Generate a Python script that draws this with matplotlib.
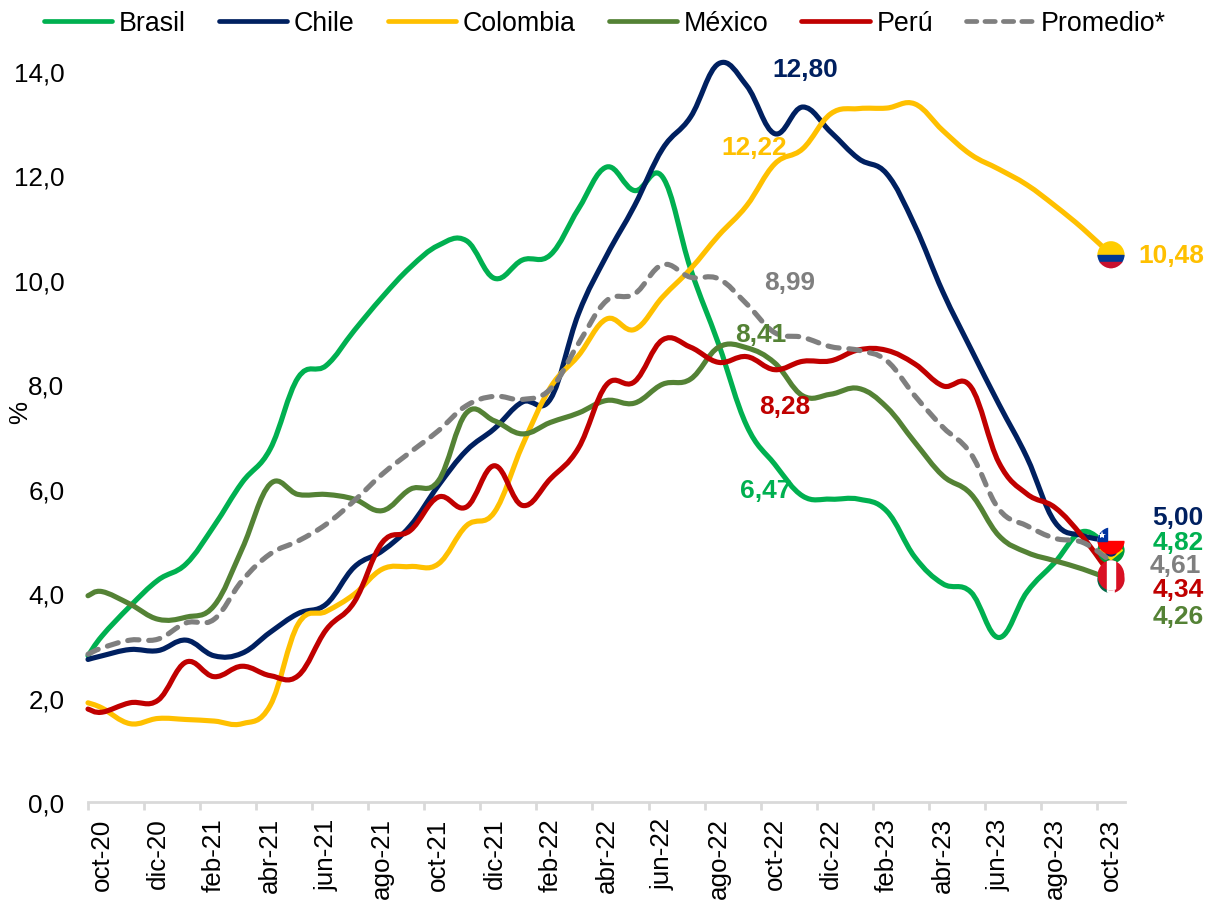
import numpy as np
import matplotlib
matplotlib.use('Agg')
import matplotlib.pyplot as plt
from matplotlib.lines import Line2D
from matplotlib.patches import Circle, Rectangle, Polygon, PathPatch
from matplotlib.path import Path
from matplotlib.transforms import Affine2D

plt.rcParams['font.family'] = ['Liberation Sans', 'DejaVu Sans']
plt.rcParams['font.size'] = 18.7

# Meses del eje (el primer valor de cada serie es el arranque en el borde izquierdo)
meses = ['oct-20', 'dic-20', 'feb-21', 'abr-21', 'jun-21', 'ago-21', 'oct-21', 'dic-21', 'feb-22',
         'abr-22', 'jun-22', 'ago-22', 'oct-22', 'dic-22', 'feb-23', 'abr-23', 'jun-23', 'ago-23', 'oct-23']

brasil = [2.8, 3.18, 3.75, 4.25, 4.56, 5.29, 6.12, 6.76, 8.13, 8.36, 9.03, 9.67, 10.24, 10.66, 10.75, 10.03,
          10.38, 10.48, 11.36, 12.16, 11.71, 11.97, 10.21, 8.77, 7.21, 6.47, 5.86, 5.8, 5.8, 5.57, 4.69, 4.18,
          4.02, 3.15, 4.02, 4.59, 5.18, 4.82]
chile = [2.73, 2.8, 2.92, 2.9, 3.1, 2.8, 2.85, 3.25, 3.61, 3.79, 4.5, 4.81, 5.29, 6.06, 6.73, 7.15,
         7.66, 7.72, 9.35, 10.46, 11.42, 12.51, 13.12, 14.14, 13.72, 12.8, 13.31, 12.83, 12.32, 12.03, 11.04, 9.77,
         8.68, 7.62, 6.6, 5.36, 5.1, 5.0]
colombia = [1.9, 1.8, 1.5, 1.6, 1.58, 1.55, 1.5, 1.85, 3.41, 3.65, 3.98, 4.46, 4.51, 4.56, 5.29, 5.55,
            6.83, 7.94, 8.55, 9.25, 9.05, 9.67, 10.21, 10.85, 11.42, 12.22, 12.51, 13.18, 13.28, 13.29, 13.37, 12.86,
            12.4, 12.12, 11.82, 11.42, 10.98, 10.48]
mexico = [3.95, 4.03, 3.79, 3.5, 3.54, 3.76, 4.85, 6.09, 5.89, 5.89, 5.8, 5.58, 5.99, 6.15, 7.45, 7.3,
          7.05, 7.27, 7.45, 7.69, 7.64, 8.0, 8.1, 8.71, 8.7, 8.41, 7.78, 7.81, 7.92, 7.56, 6.89, 6.25,
          5.9, 5.1, 4.78, 4.62, 4.46, 4.26]
peru = [1.78, 1.72, 1.9, 1.95, 2.68, 2.4, 2.6, 2.42, 2.42, 3.3, 3.83, 4.97, 5.2, 5.84, 5.65, 6.44,
        5.68, 6.19, 6.78, 7.99, 8.05, 8.85, 8.71, 8.42, 8.53, 8.28, 8.44, 8.45, 8.66, 8.65, 8.39, 7.97,
        7.95, 6.5, 5.9, 5.64, 5.07, 4.34]
promedio = [2.83, 2.95, 3.1, 3.12, 3.43, 3.5, 4.24, 4.75, 5.0, 5.32, 5.77, 6.28, 6.7, 7.11, 7.59, 7.77,
            7.71, 7.91, 8.78, 9.6, 9.73, 10.29, 10.05, 10.02, 9.54, 8.99, 8.9, 8.72, 8.65, 8.45, 7.78, 7.18,
            6.67, 5.61, 5.29, 5.05, 4.97, 4.61]

nombres = ['Brasil', 'Chile', 'Colombia', 'México', 'Perú', 'Promedio*']
series = [brasil, chile, colombia, mexico, peru, promedio]
colores = ['#00B050', '#002060', '#FFC000', '#548235', '#C00000', '#7F7F7F']


def suavizar(x, y):
    # curva tipo "linea suavizada" de Excel, con beziers entre los puntos mensuales
    p = np.column_stack([x, y])
    verts = [p[0]]
    for i in range(len(p) - 1):
        ant = p[max(i - 1, 0)]
        sig = p[min(i + 2, len(p) - 1)]
        verts.append(p[i] + (p[i + 1] - ant) * 0.19)
        verts.append(p[i + 1] - (sig - p[i]) * 0.19)
        verts.append(p[i + 1])
    codes = [Path.MOVETO] + [Path.CURVE4] * (len(verts) - 1)
    return Path(verts, codes)


fig = plt.figure(figsize=(12.07, 9.03), dpi=100)
ax = fig.add_axes([88 / 1207, 100 / 903, 1037 / 1207, 731 / 903])
ax.set_xlim(-0.5, 36.5)
ax.set_ylim(0, 14)

x = np.r_[-0.5, np.arange(37)]
for nombre, serie, color in zip(nombres, series, colores):
    promedio_linea = nombre.startswith('Promedio')
    linea = PathPatch(suavizar(x, serie), fill=False, edgecolor=color, lw=3.7, capstyle='round',
                      joinstyle='round', clip_on=False, zorder=5 if promedio_linea else 2,
                      linestyle=(0, (2.2, 1.9)) if promedio_linea else '-')
    ax.add_patch(linea)

ax.spines[['top', 'right', 'left']].set_visible(False)
ax.spines['bottom'].set_color('#D9D9D9')
ax.spines['bottom'].set_linewidth(2)
ax.set_yticks(np.arange(0, 15, 2))
ax.set_yticklabels([f'{v:.1f}'.replace('.', ',') for v in np.arange(0, 15, 2)])
ax.tick_params(axis='y', length=0, pad=17)
ax.set_xticks(np.arange(0, 37, 2))
ax.set_xticklabels(meses, rotation=90)
ax.tick_params(axis='x', which='major', length=0, pad=11)
ax.set_xticks(np.arange(-0.5, 36, 2), minor=True)
ax.tick_params(axis='x', which='minor', length=6, width=2, color='#D9D9D9')
ax.set_ylabel('%', va='center', fontsize=18.7)
ax.yaxis.set_label_coords(-68 / 1037, 391 / 731)

# Etiquetas: serie, mes, valor y desplazamiento en pixeles
etiquetas = [(1, 24, 31, 65), (2, 24, -21, 17), (5, 24, 15, 51), (3, 24, -14, 29), (4, 24, 10, -36),
             (0, 24, -9, -26), (2, 36, 60, 0), (1, 36, 67, 24), (0, 36, 67, 8), (5, 36, 64, -4),
             (4, 36, 67, -14), (3, 36, 67, -36)]
for s, mes, dx, dy in etiquetas:
    valor = series[s][mes + 1]
    ax.annotate(f'{valor:.2f}'.replace('.', ','), xy=(mes, valor), xytext=(dx, dy), textcoords='offset pixels',
                ha='center', va='center', color=colores[s], fontweight='bold', fontsize=18.9,
                annotation_clip=False, zorder=6)


def bandera(valor, rx, ry, partes, z):
    # cada bandera es un circulo en pixeles sobre el ultimo dato
    cx, cy = ax.transData.transform((36, valor))
    tr = Affine2D().scale(rx, ry).translate(cx, cy)
    borde = Circle((0, 0), 1, transform=tr)
    for p in partes:
        p.set_transform(tr)
        p.set_zorder(z)
        ax.add_patch(p)
        p.set_clip_path(borde)
    return tr


bandera(mexico[-1], 13.5, 13.5, [Rectangle((-1, -1), 0.67, 2, color='#006847'),
                                 Rectangle((-0.33, -1), 0.66, 2, color='white'),
                                 Rectangle((0.33, -1), 0.67, 2, color='#CE1126')], 3)
bandera(brasil[-1], 13.5, 13.5, [Rectangle((-1, -1), 2, 2, color='#009B3A'),
                                 Polygon([(-0.85, 0), (0, 0.7), (0.85, 0), (0, -0.7)], color='#FEDF00'),
                                 Circle((0, 0), 0.42, color='#002776')], 3.1)
tr = bandera(chile[-1], 13.5, 13.5, [Rectangle((-1, 0), 2, 1, color='white'),
                                     Rectangle((-1, -1), 2, 1, color='#FF0000'),
                                     Rectangle((-1, 0), 0.67, 1, color='#0033A0')], 3.2)
ax.plot([-0.66], [0.42], marker='*', ms=6, mfc='white', mec='white', mew=0, transform=tr, clip_on=False, zorder=3.3)
bandera(peru[-1], 13.3, 15, [Rectangle((-1, -1), 2, 2, color='#D91023'),
                             Rectangle((-0.3, -1), 0.6, 2, color='white')], 3.4)
bandera(colombia[-1], 13.5, 13.5, [Rectangle((-1, 0), 2, 1, color='#FFCD00'),
                                   Rectangle((-1, -0.5), 2, 0.5, color='#003893'),
                                   Rectangle((-1, -1), 2, 0.5, color='#C8102E')], 3.5)

handles = [Line2D([], [], color=c, lw=3.4, solid_capstyle='round', dash_capstyle='round') for c in colores]
handles[-1].set_linestyle((0, (2.2, 1.7)))
fig.legend(handles, nombres, loc='center left', bbox_to_anchor=(44 / 1207, 1 - 24 / 903), ncol=6, frameon=False,
           handlelength=2.55, handletextpad=0.25, columnspacing=1.23, borderpad=0, borderaxespad=0, fontsize=19.3)

plt.savefig('out.png', dpi=100)
